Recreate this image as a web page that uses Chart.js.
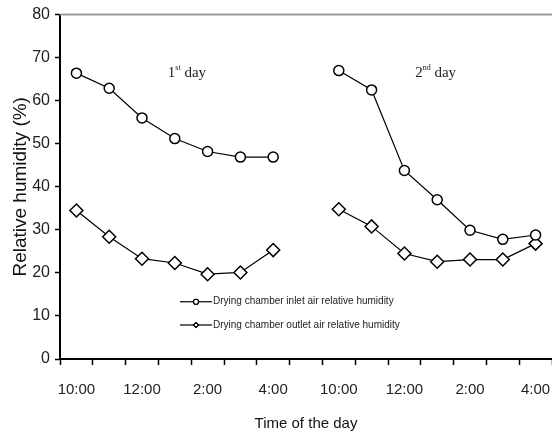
<!DOCTYPE html>
<html>
<head>
<meta charset="utf-8">
<script src="https://cdn.jsdelivr.net/npm/chart.js@4.4.0/dist/chart.umd.min.js"></script>
<style>
  html, body { margin: 0; padding: 0; background: #fff; }
  #wrap { width: 552px; height: 436px; }
</style>
</head>
<body>
<div id="wrap"><canvas id="myChart"></canvas></div>
<script>
// hourly readings, two days, empty slot between them
var hours = ["10:00", "11:00", "12:00", "1:00", "2:00", "3:00", "4:00", "",
             "10:00", "11:00", "12:00", "1:00", "2:00", "3:00", "4:00"];
var tickLabels = ["10:00", "", "12:00", "", "2:00", "", "4:00", "",
                  "10:00", "", "12:00", "", "2:00", "", "4:00"];
var inletRH = [66.4, 62.9, 56.0, 51.2, 48.2, 46.9, 46.9, null,
               67.0, 62.5, 43.8, 37.0, 29.9, 27.8, 28.8];
var outletRH = [34.5, 28.4, 23.3, 22.3, 19.7, 20.1, 25.3, null,
                34.8, 30.8, 24.5, 22.6, 23.1, 23.1, 26.8];
var seriesNames = ["Drying chamber inlet air relative humidity",
                   "Drying chamber outlet air relative humidity"];
var dayLabels = [["1", "st", " day"], ["2", "nd", " day"]];

var sansFont = "'Liberation Sans', Arial, sans-serif";
var serifFont = "'Liberation Serif', 'Times New Roman', serif";

// extra drawing: top frame line, in-plot legend, day captions
var extras = {
  id: 'extras',
  afterDraw: function(chart) {
    var ctx = chart.ctx;
    var a = chart.chartArea;
    var xs = chart.scales.x, ys = chart.scales.y;
    ctx.save();

    // gray top line
    ctx.strokeStyle = '#9a9a9a';
    ctx.lineWidth = 2;
    ctx.beginPath();
    ctx.moveTo(a.left, a.top);
    ctx.lineTo(chart.width, a.top);
    ctx.stroke();

    // legend
    var lx = a.left + 120;
    var ly = [ys.getPixelForValue(13.3), ys.getPixelForValue(7.9)];
    chart.data.datasets.forEach(function(ds, i) {
      ctx.strokeStyle = '#000';
      ctx.lineWidth = 1.2;
      ctx.beginPath();
      ctx.moveTo(lx, ly[i]);
      ctx.lineTo(lx + 32, ly[i]);
      ctx.stroke();
      Chart.helpers.drawPoint(ctx, {
        pointStyle: ds.pointStyle, radius: 2.5, borderWidth: 1
      }, lx + 16, ly[i]);
      ctx.fillStyle = '#fff';
      ctx.fill();
      ctx.stroke();
      ctx.fillStyle = '#222';
      ctx.font = "10px " + sansFont;
      ctx.textBaseline = 'middle';
      ctx.textAlign = 'left';
      ctx.fillText(seriesNames[i], lx + 33, ly[i]);
    });

    // day captions
    var anchors = [xs.getPixelForValue(3) - 7, xs.getPixelForValue(11) - 22];
    var by = ys.getPixelForValue(65.6);
    ctx.fillStyle = '#222';
    ctx.textBaseline = 'alphabetic';
    dayLabels.forEach(function(d, i) {
      var x = anchors[i];
      ctx.font = "15px " + serifFont;
      ctx.fillText(d[0], x, by);
      x += ctx.measureText(d[0]).width;
      ctx.font = "8px " + serifFont;
      ctx.fillText(d[1], x, by - 7);
      x += ctx.measureText(d[1]).width;
      ctx.font = "15px " + serifFont;
      ctx.fillText(d[2], x, by);
    });
    ctx.restore();
  }
};

var ctx = document.getElementById('myChart').getContext('2d');
var myChart = new Chart(ctx, {
  type: 'line',
  data: {
    labels: hours,
    datasets: [
      {
        label: seriesNames[0],
        data: inletRH,
        borderColor: '#000',
        borderWidth: 1.2,
        backgroundColor: '#fff',
        pointStyle: 'circle',
        pointRadius: 5,
        pointBorderWidth: 1.5,
        pointBorderColor: '#000',
        pointBackgroundColor: '#fff',
        fill: false,
        tension: 0,
        spanGaps: false
      },
      {
        label: seriesNames[1],
        data: outletRH,
        borderColor: '#000',
        borderWidth: 1.2,
        backgroundColor: '#fff',
        pointStyle: 'rectRot',
        pointRadius: 6.5,
        pointBorderWidth: 1.5,
        pointBorderColor: '#000',
        pointBackgroundColor: '#fff',
        fill: false,
        tension: 0,
        spanGaps: false
      }
    ]
  },
  options: {
    responsive: true,
    maintainAspectRatio: false,
    animation: false,
    layout: { autoPadding: false, padding: { top: 14, right: 0, left: 0, bottom: 0 } },
    plugins: {
      legend: { display: false },
      tooltip: { enabled: false }
    },
    scales: {
      x: {
        offset: true,
        grid: { drawOnChartArea: false, drawTicks: true, tickLength: 6, tickColor: '#000', tickWidth: 1.5, offset: true },
        border: { color: '#000', width: 2 },
        ticks: {
          // tall line box pushes the labels down without adding side padding
          autoSkip: false, maxRotation: 0, padding: 0, color: '#222',
          font: { family: sansFont, size: 15, lineHeight: '50px' },
          callback: function(v, i) { return tickLabels[i]; }
        },
        title: {
          display: true, text: 'Time of the day', color: '#111',
          font: { family: sansFont, size: 15 },
          padding: { top: 0, bottom: 3 }
        },
        afterFit: function(s) { s.height = 77; }
      },
      y: {
        min: 0, max: 80,
        grid: { drawOnChartArea: false, drawTicks: true, tickLength: 5, tickColor: '#000', tickWidth: 1.5 },
        border: { color: '#000', width: 2 },
        ticks: {
          stepSize: 10, padding: 5, color: '#222',
          font: { family: sansFont, size: 16 }
        },
        title: {
          display: true, text: 'Relative humidity (%)', color: '#111',
          font: { family: sansFont, size: 19 },
          padding: { top: 9, bottom: 0 }
        },
        afterFit: function(s) { s.width = 60; }
      }
    }
  },
  plugins: [extras]
});
</script>
</body>
</html>
